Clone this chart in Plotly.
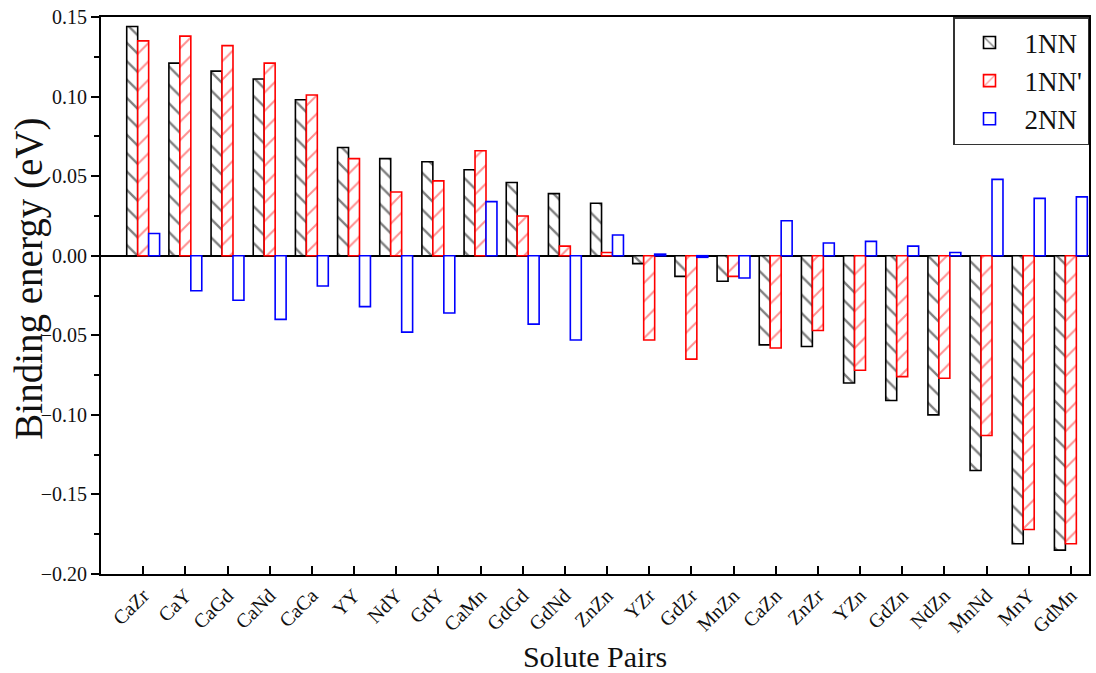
import plotly.graph_objects as go

pairs = ["CaZr", "CaY", "CaGd", "CaNd", "CaCa", "YY", "NdY", "GdY", "CaMn",
         "GdGd", "GdNd", "ZnZn", "YZr", "GdZr", "MnZn", "CaZn", "ZnZr",
         "YZn", "GdZn", "NdZn", "MnNd", "MnY", "GdMn"]

e_1nn = [0.144, 0.121, 0.116, 0.111, 0.098, 0.068, 0.061, 0.059, 0.054,
         0.046, 0.039, 0.033, -0.005, -0.013, -0.016, -0.056, -0.057,
         -0.080, -0.091, -0.100, -0.135, -0.181, -0.185]
e_1nn_p = [0.135, 0.138, 0.132, 0.121, 0.101, 0.061, 0.040, 0.047, 0.066,
           0.025, 0.006, 0.002, -0.053, -0.065, -0.013, -0.058, -0.047,
           -0.072, -0.076, -0.077, -0.113, -0.172, -0.181]
e_2nn = [0.014, -0.022, -0.028, -0.040, -0.019, -0.032, -0.048, -0.036, 0.034,
         -0.043, -0.053, 0.013, 0.001, -0.001, -0.014, 0.022, 0.008,
         0.009, 0.006, 0.002, 0.048, 0.036, 0.037]

FONT = "Liberation Serif"
INK = "#111111"

fig = go.Figure()
fig.add_trace(go.Bar(
    x=pairs, y=e_1nn, name="1NN",
    marker=dict(color="white",
                line=dict(color="black", width=1.6),
                pattern=dict(shape="\\", fgcolor="black", bgcolor="white",
                             size=13, solidity=0.18)),
))
fig.add_trace(go.Bar(
    x=pairs, y=e_1nn_p, name="1NN'",
    marker=dict(color="white",
                line=dict(color="#ff0000", width=1.6),
                pattern=dict(shape="/", fgcolor="#ff2020", bgcolor="white",
                             size=13, solidity=0.15)),
))
fig.add_trace(go.Bar(
    x=pairs, y=e_2nn, name="2NN",
    marker=dict(color="white", line=dict(color="#0000ff", width=1.6)),
))

fig.update_layout(
    width=1096, height=673,
    margin=dict(l=101, r=5, t=17, b=96),
    paper_bgcolor="white", plot_bgcolor="white",
    barmode="group", bargap=0.22, bargroupgap=0,
    font=dict(family=FONT, color=INK),
    showlegend=True,
    legend=dict(x=1, y=1, xanchor="right", yanchor="top",
                bordercolor="#333333", borderwidth=1.5, bgcolor="white",
                font=dict(family=FONT, size=27, color=INK),
                tracegroupgap=0, itemwidth=60),
    annotations=[dict(
        text="Binding energy (eV)", textangle=-90,
        xref="paper", yref="paper", x=-0.073, y=0.53,
        xanchor="center", yanchor="middle", showarrow=False,
        font=dict(family=FONT, size=39, color=INK),
    )],
)

fig.update_xaxes(
    type="category", range=[-1.0, 22.43],
    showline=True, linecolor="black", linewidth=2, mirror=True,
    ticks="inside", ticklen=8, tickwidth=1.5, tickcolor="black",
    tickangle=-45, tickfont=dict(family=FONT, size=20, color=INK),
    showgrid=False,
    title=dict(text="Solute Pairs", font=dict(family=FONT, size=30, color=INK),
               standoff=10),
)
fig.update_yaxes(
    range=[-0.2, 0.15], dtick=0.05, tickformat=".2f",
    showline=True, linecolor="black", linewidth=2, mirror=True,
    ticks="outside", ticklen=8, tickwidth=1.5, tickcolor="black",
    minor=dict(dtick=0.025, ticks="outside", ticklen=5, tickwidth=1.5,
               tickcolor="black"),
    tickfont=dict(family=FONT, size=20, color=INK),
    showgrid=False,
    zeroline=True, zerolinecolor="black", zerolinewidth=2,
)

fig.write_html("out.html")
